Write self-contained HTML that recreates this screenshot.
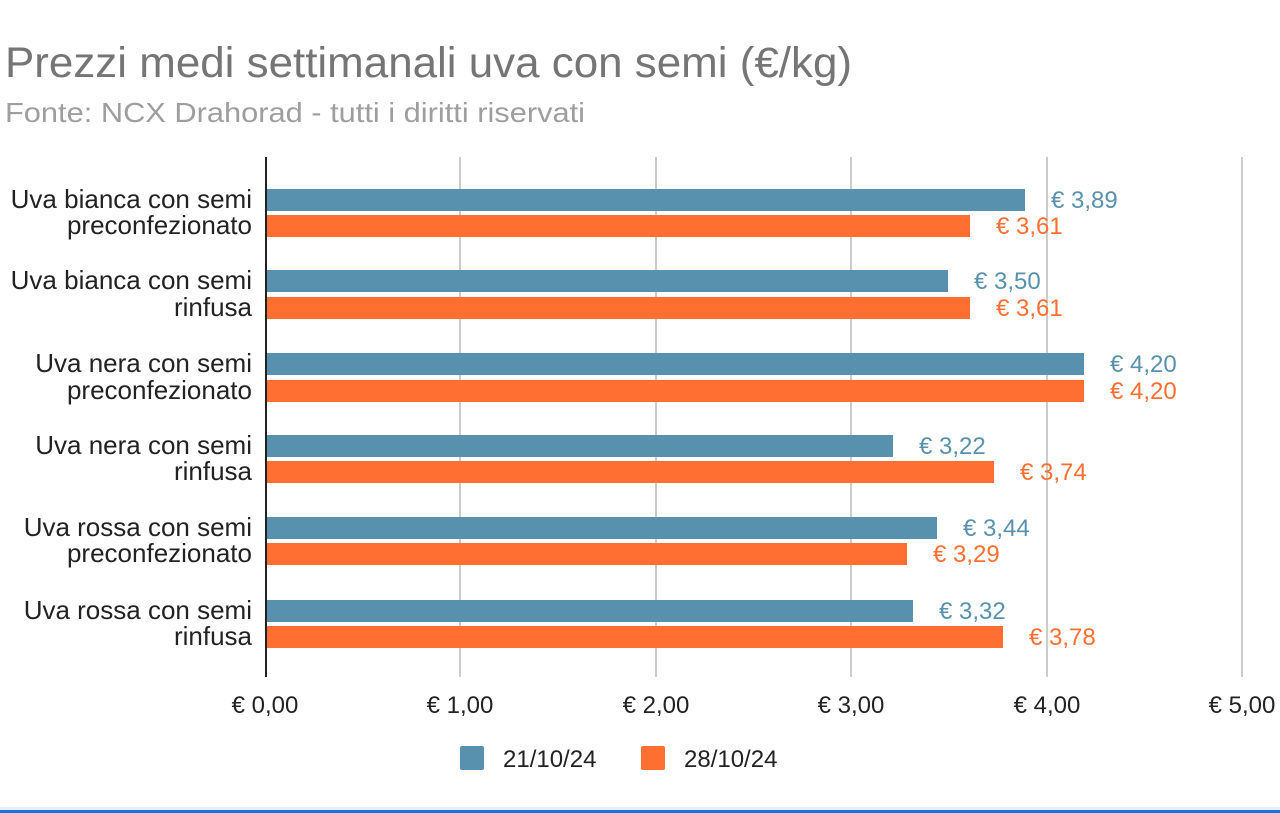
<!DOCTYPE html>
<html><head><meta charset="utf-8"><style>
html,body{margin:0;padding:0;background:#fff;}
svg{display:block;font-family:"Liberation Sans",Arial,sans-serif;}
</style></head><body>
<svg width="1280" height="813" viewBox="0 0 1280 813" xmlns="http://www.w3.org/2000/svg">
<text x="5" y="77" font-size="43" fill="#757575" textLength="847" lengthAdjust="spacingAndGlyphs">Prezzi medi settimanali uva con semi (€/kg)</text>
<text x="5" y="122" font-size="28" fill="#9e9e9e" textLength="580" lengthAdjust="spacingAndGlyphs">Fonte: NCX Drahorad - tutti i diritti riservati</text>
<g stroke="#cccccc" stroke-width="2">
<line x1="460" y1="157" x2="460" y2="677"/>
<line x1="656" y1="157" x2="656" y2="677"/>
<line x1="851" y1="157" x2="851" y2="677"/>
<line x1="1047" y1="157" x2="1047" y2="677"/>
<line x1="1242" y1="157" x2="1242" y2="677"/>
</g>
<g>
<rect x="266" y="189" width="759" height="22" fill="#5891ad"/>
<rect x="266" y="215" width="704" height="22" fill="#ff6f31"/>
<rect x="266" y="270" width="682" height="22" fill="#5891ad"/>
<rect x="266" y="297" width="704" height="22" fill="#ff6f31"/>
<rect x="266" y="353" width="818" height="22" fill="#5891ad"/>
<rect x="266" y="380" width="818" height="22" fill="#ff6f31"/>
<rect x="266" y="435" width="627" height="22" fill="#5891ad"/>
<rect x="266" y="461" width="728" height="22" fill="#ff6f31"/>
<rect x="266" y="517" width="671" height="22" fill="#5891ad"/>
<rect x="266" y="543" width="641" height="22" fill="#ff6f31"/>
<rect x="266" y="600" width="647" height="22" fill="#5891ad"/>
<rect x="266" y="626" width="737" height="22" fill="#ff6f31"/>
</g>
<line x1="266" y1="157" x2="266" y2="677" stroke="#222" stroke-width="2"/>
<g font-size="24">
<text x="1051" y="208" fill="#5891ad">€ 3,89</text>
<text x="996" y="234" fill="#ff6f31">€ 3,61</text>
<text x="974" y="289" fill="#5891ad">€ 3,50</text>
<text x="996" y="316" fill="#ff6f31">€ 3,61</text>
<text x="1110" y="372" fill="#5891ad">€ 4,20</text>
<text x="1110" y="399" fill="#ff6f31">€ 4,20</text>
<text x="919" y="454" fill="#5891ad">€ 3,22</text>
<text x="1020" y="480" fill="#ff6f31">€ 3,74</text>
<text x="963" y="536" fill="#5891ad">€ 3,44</text>
<text x="933" y="562" fill="#ff6f31">€ 3,29</text>
<text x="939" y="619" fill="#5891ad">€ 3,32</text>
<text x="1029" y="645" fill="#ff6f31">€ 3,78</text>
</g>
<g font-size="26" fill="#222" text-anchor="end">
<text x="252" y="208">Uva bianca con semi</text>
<text x="252" y="234">preconfezionato</text>
<text x="252" y="289">Uva bianca con semi</text>
<text x="252" y="316">rinfusa</text>
<text x="252" y="372">Uva nera con semi</text>
<text x="252" y="399">preconfezionato</text>
<text x="252" y="454">Uva nera con semi</text>
<text x="252" y="480">rinfusa</text>
<text x="252" y="536">Uva rossa con semi</text>
<text x="252" y="562">preconfezionato</text>
<text x="252" y="619">Uva rossa con semi</text>
<text x="252" y="645">rinfusa</text>
</g>
<g font-size="24" fill="#222" text-anchor="middle">
<text x="265" y="713">€ 0,00</text>
<text x="460" y="713">€ 1,00</text>
<text x="656" y="713">€ 2,00</text>
<text x="851" y="713">€ 3,00</text>
<text x="1047" y="713">€ 4,00</text>
<text x="1242" y="713">€ 5,00</text>
</g>
<rect x="460" y="746" width="24" height="24" rx="2" fill="#5891ad"/>
<text x="503" y="767" font-size="24" fill="#222">21/10/24</text>
<rect x="641" y="746" width="24" height="24" rx="2" fill="#ff6f31"/>
<text x="684" y="767" font-size="24" fill="#222">28/10/24</text>
<rect x="0" y="807" width="1280" height="3" fill="#e3f0fc"/>
<rect x="0" y="810" width="1280" height="3" fill="#1a73d9"/>
</svg>
</body></html>
